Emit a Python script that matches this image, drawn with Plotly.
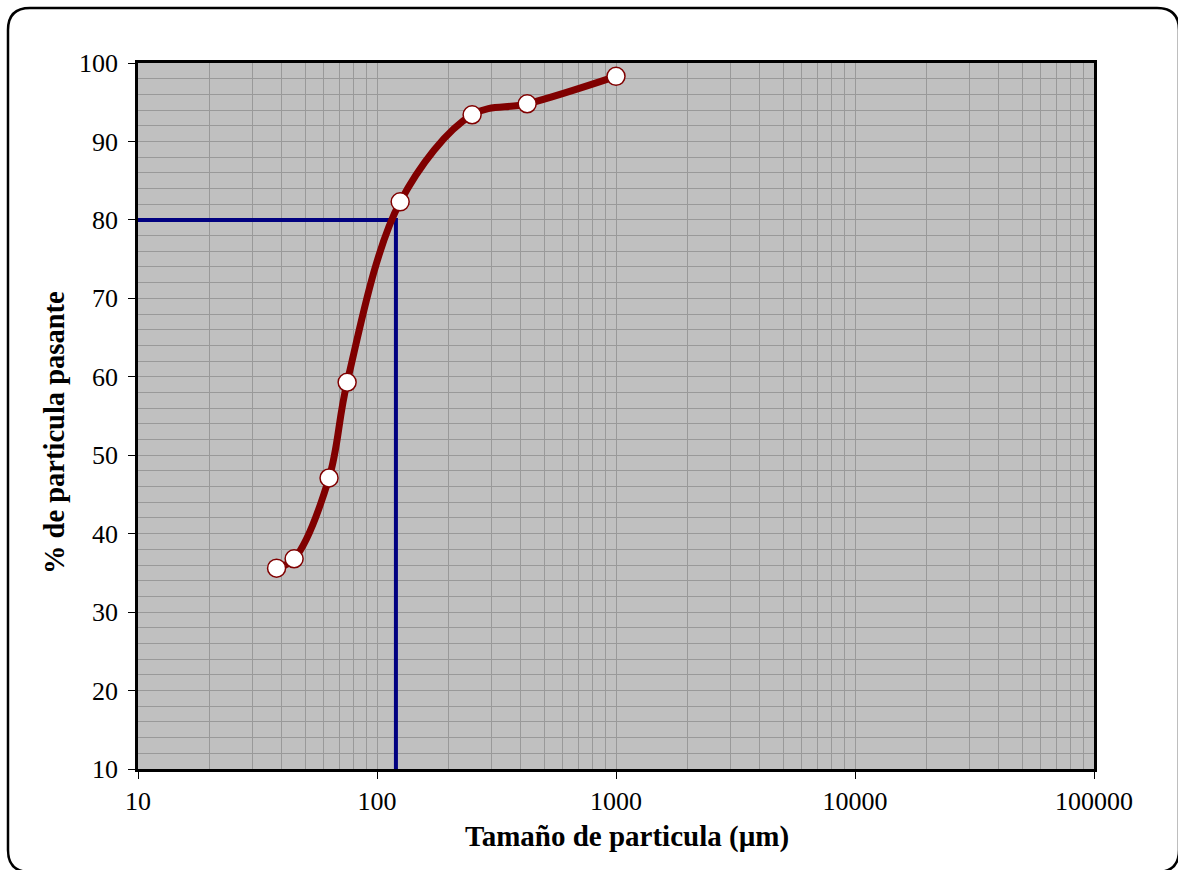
import plotly.graph_objects as go

# Sieve analysis: particle size (µm) vs cumulative % passing
sizes_um = [38, 45, 63, 75, 125, 250, 425, 1000]
pct_passing = [35.6, 36.8, 47.1, 59.3, 82.3, 93.4, 94.8, 98.3]

# P80 guide: size at 80 % passing
p80_x = [10, 120, 120]
p80_y = [80, 80, 10]

x_tick_vals = [10, 100, 1000, 10000, 100000]
x_tick_text = ["10", "100", "1000", "10000", "100000"]
y_tick_vals = [10, 20, 30, 40, 50, 60, 70, 80, 90, 100]

x_title = "<b>Tamaño de particula (µm)</b>"
y_title = "<b>% de particula pasante</b>"

W, H = 1178, 870
L, R, T, B = 138, 84, 63, 101
pw, ph = W - L - R, H - T - B

FONT = "Liberation Serif, Times New Roman, serif"
GRID = "#999999"

fig = go.Figure()

fig.add_trace(go.Scatter(
    x=p80_x, y=p80_y, mode="lines",
    line=dict(color="#000080", width=4),
    hoverinfo="skip", showlegend=False,
))

fig.add_trace(go.Scatter(
    x=sizes_um, y=pct_passing, mode="lines+markers",
    line=dict(color="#800000", width=7, shape="spline", smoothing=1.0),
    marker=dict(size=18, color="white", line=dict(color="#800000", width=1.5)),
    showlegend=False,
))


def px_to_paper(px, py):
    return (px - L) / pw, (H - B - py) / ph


# rounded frame around the whole chart
x0, y0, x1, y1, rad = 8, 8, 1179, 872, 22
pts = [
    ("M", (x0 + rad, y0)), ("L", (x1 - rad, y0)), ("Q", (x1, y0), (x1, y0 + rad)),
    ("L", (x1, y1 - rad)), ("Q", (x1, y1), (x1 - rad, y1)),
    ("L", (x0 + rad, y1)), ("Q", (x0, y1), (x0, y1 - rad)),
    ("L", (x0, y0 + rad)), ("Q", (x0, y0), (x0 + rad, y0)),
]
path = ""
for cmd, *ps in pts:
    coords = " ".join("%.5f,%.5f" % px_to_paper(*p) for p in ps)
    path += f"{cmd} {coords} "
path += "Z"

fig.add_shape(type="path", path=path, xref="paper", yref="paper",
              line=dict(color="black", width=2.5), layer="above")

# axis titles placed as annotations
tx, ty = px_to_paper(627, 836)
fig.add_annotation(text=x_title, x=tx, y=ty, xref="paper", yref="paper",
                   showarrow=False, xanchor="center", yanchor="middle",
                   font=dict(family=FONT, size=29, color="black"))
tx, ty = px_to_paper(54, 433)
fig.add_annotation(text=y_title, x=tx, y=ty, xref="paper", yref="paper",
                   showarrow=False, xanchor="center", yanchor="middle",
                   textangle=-90,
                   font=dict(family=FONT, size=28.5, color="black"))

fig.update_layout(
    width=W, height=H,
    margin=dict(l=L, r=R, t=T, b=B, autoexpand=False),
    paper_bgcolor="white",
    plot_bgcolor="#C0C0C0",
    font=dict(family=FONT, size=26, color="black"),
    xaxis=dict(
        type="log", range=[1, 5],
        tickvals=x_tick_vals, ticktext=x_tick_text,
        ticks="outside", ticklen=7, tickwidth=1, tickcolor="black",
        showgrid=True, gridcolor=GRID, gridwidth=1,
        minor=dict(dtick="D1", showgrid=True, gridcolor=GRID, gridwidth=1, ticks=""),
        showline=True, linecolor="black", linewidth=2.5, mirror=True,
        zeroline=False,
        tickfont=dict(family=FONT, size=26),
    ),
    yaxis=dict(
        range=[10, 100],
        tickvals=y_tick_vals,
        ticks="outside", ticklen=7, tickwidth=1, tickcolor="black",
        showgrid=True, gridcolor=GRID, gridwidth=1,
        minor=dict(dtick=2, showgrid=True, gridcolor=GRID, gridwidth=1, ticks=""),
        showline=True, linecolor="black", linewidth=2.5, mirror=True,
        zeroline=False,
        tickfont=dict(family=FONT, size=26),
        ticklabelstandoff=5,
    ),
)

fig.write_html("out.html")
